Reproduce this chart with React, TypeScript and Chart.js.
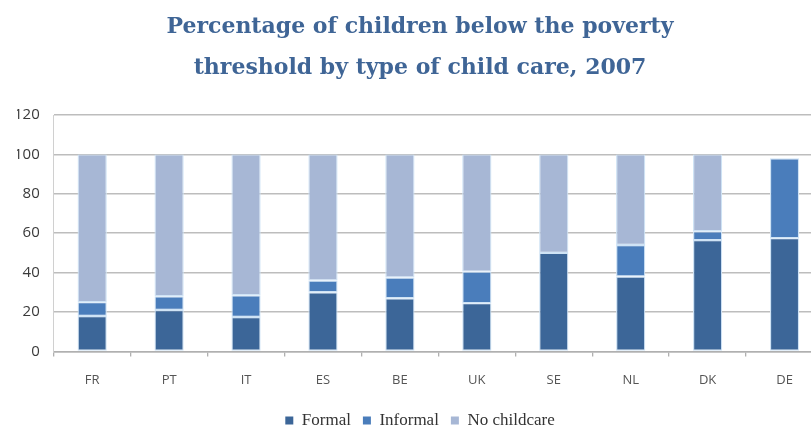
import React, { useEffect, useRef } from "react";
import { Chart, registerables } from "chart.js";

Chart.register(...registerables);

const categories = ["FR", "PT", "IT", "ES", "BE", "UK", "SE", "NL", "DK", "DE"];
const formal = [18, 21, 17.5, 30, 27, 24.5, 50, 38, 56.5, 57.5];
const informal = [7, 7, 11, 6, 10.5, 16, 0, 16, 4.5, 40.5];
const noChildcare = [75, 72, 71.5, 64, 62.5, 59.5, 50, 46, 39, 0];
const yTicks = [0, 20, 40, 60, 80, 100, 120];
const titleLines = ["Percentage of children below the poverty", "threshold by type of child care, 2007"];

export default function App() {
  const ref = useRef<HTMLCanvasElement | null>(null);
  useEffect(() => {
    document.body.style.margin = "0";
    document.body.style.overflow = "hidden";
    if (!ref.current) return;
    const seg = {
      borderColor: "#cfe3f5",
      borderWidth: 1.2,
      borderSkipped: false as const,
      categoryPercentage: 1,
      barPercentage: 0.38,
    };
    const chart = new Chart(ref.current, {
      type: "bar",
      data: {
        labels: categories,
        datasets: [
          { label: "Formal", data: formal, backgroundColor: "#3c6698", ...seg },
          { label: "Informal", data: informal, backgroundColor: "#4a7dbb", ...seg },
          { label: "No childcare", data: noChildcare, backgroundColor: "#a7b7d5", ...seg },
        ],
      },
      options: {
        animation: false,
        responsive: false,
        layout: { padding: { left: 17, right: 17, top: 0, bottom: 0 } },
        plugins: {
          tooltip: { enabled: false },
          title: {
            display: true,
            text: titleLines,
            color: "#3f6596",
            font: { family: "DejaVu Serif", size: 22, weight: "bold", lineHeight: 1.864 },
            padding: { top: 7, bottom: 26 },
          },
          legend: {
            position: "bottom",
            labels: {
              boxWidth: 8,
              boxHeight: 8,
              color: "#333",
              padding: 12,
              font: { family: "Liberation Serif", size: 17 },
              useBorderRadius: false,
              generateLabels: (c) =>
                c.data.datasets.map((d, i) => ({
                  text: d.label as string,
                  fillStyle: d.backgroundColor as string,
                  strokeStyle: d.backgroundColor as string,
                  lineWidth: 0,
                  hidden: false,
                  datasetIndex: i,
                  fontColor: "#333",
                })),
            },
          },
        },
        scales: {
          x: {
            stacked: true,
            afterFit: (s) => {
              s.height -= 4;
            },
            grid: { drawOnChartArea: false, drawTicks: true, tickLength: 5, color: "#b0b0b0", lineWidth: 1.3 },
            border: { display: true, color: "#b0b0b0", width: 1.5 },
            ticks: { color: "#555", padding: 16, font: { family: "Open Sans", size: 13 } },
          },
          y: {
            stacked: true,
            min: 0,
            max: 120,
            afterFit: (s) => {
              s.width -= 17;
            },
            afterBuildTicks: (s) => {
              s.ticks = yTicks.map((v) => ({ value: v }));
            },
            grid: { drawTicks: false, color: "#bdbdbd", lineWidth: 1.5 },
            border: { display: true, color: "#d0d0d0", width: 1 },
            ticks: { color: "#3a3a3a", padding: 14, font: { family: "Open Sans", size: 15 } },
          },
        },
      },
    });
    return () => chart.destroy();
  }, []);
  return (
    <div style={{ position: "fixed", left: 0, top: 0, width: 811, height: 427, overflow: "hidden", background: "#fff" }}>
      <canvas ref={ref} width={840} height={439} style={{ display: "block" }} />
    </div>
  );
}
